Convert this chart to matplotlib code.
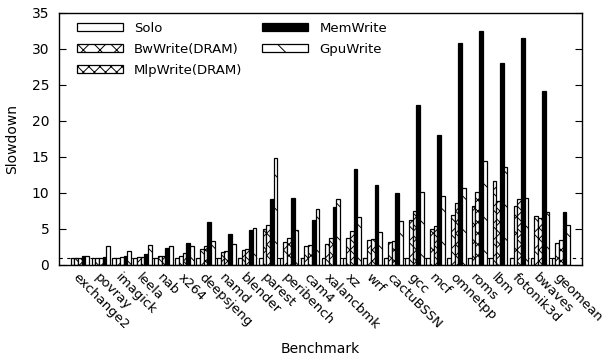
import matplotlib
matplotlib.use("Agg")
import matplotlib.pyplot as plt
import numpy as np

benchmarks = ["exchange2", "povray", "imagick", "leela", "nab", "x264", "deepsjeng",
              "namd", "blender", "parest", "peribench", "cam4", "xalancbmk", "xz",
              "wrf", "cactuBSSN", "gcc", "mcf", "omnetpp", "roms", "lbm",
              "fotonik3d", "bwaves", "geomean"]
solo = [1.0] * 24
bw_write = [1.0, 1.0, 1.0, 1.1, 1.2, 1.3, 2.2, 1.75, 2.1, 5.0, 3.2, 2.7, 2.9, 3.8,
            3.5, 3.15, 6.2, 5.0, 7.0, 8.2, 11.6, 8.2, 6.8, 3.1]
mlp_write = [1.0, 1.0, 1.05, 1.1, 1.3, 1.6, 2.6, 1.9, 2.2, 5.5, 3.7, 2.8, 3.7, 4.7,
             3.6, 3.3, 7.5, 5.4, 8.6, 10.1, 8.9, 9.1, 6.5, 3.4]
mem_write = [1.3, 1.15, 1.3, 1.5, 2.4, 3.0, 5.9, 4.3, 4.9, 9.2, 9.3, 6.3, 8.0, 13.3,
             11.1, 10.0, 22.2, 18.0, 30.8, 32.5, 28.0, 31.5, 24.2, 7.4]
gpu_write = [1.2, 2.7, 2.0, 2.8, 2.6, 2.7, 3.3, 2.9, 5.2, 14.9, 4.8, 7.8, 9.1, 6.6,
             4.6, 6.1, 10.2, 9.6, 10.7, 14.4, 13.6, 9.3, 7.3, 5.5]

series = [("Solo", solo, "white", ""),
          ("BwWrite(DRAM)", bw_write, "white", "xx"),
          ("MlpWrite(DRAM)", mlp_write, "white", "xxx"),
          ("MemWrite", mem_write, "black", ""),
          ("GpuWrite", gpu_write, "white", "\\")]

plt.rcParams["hatch.linewidth"] = 0.7
plt.rcParams["font.family"] = ["DejaVu Sans"]

fig = plt.figure(figsize=(6.08, 3.6), dpi=100)
ax = fig.add_axes([0.097, 0.264, 0.86, 0.7])

x = np.arange(len(benchmarks))
w = 0.177
ax.axhline(1, color="black", lw=0.8, ls=(0, (3, 4)), zorder=1)
for i, (name, vals, col, hatch) in enumerate(series):
    ax.bar(x + (i - 2) * w, vals, w, color=col, edgecolor="black", hatch=hatch,
           linewidth=0.9, label=name, zorder=2)

ax.set_xlim(-1, 24)
ax.set_ylim(0, 35)
ax.set_yticks(range(0, 36, 5))
ax.tick_params(axis="y", direction="in", length=5, right=True, labelsize=10, pad=7)
ax.set_xticks(x)
ax.set_xticklabels(benchmarks, rotation=-45, ha="left", va="top",
                   rotation_mode="anchor", fontsize=9.5)
ax.tick_params(axis="x", length=0, pad=4)
for s in ax.spines.values():
    s.set_linewidth(1.0)

ax.set_ylabel("Slowdown", fontsize=10)
ax.set_xlabel("Benchmark", fontsize=10)
ax.yaxis.set_label_coords(-0.09, 0.5)
ax.xaxis.set_label_coords(0.5, -0.333)
ax.xaxis.label.set_va("center")
ax.yaxis.label.set_va("center")

ax.legend(ncol=2, loc="upper left", bbox_to_anchor=(0.034, 0.965), frameon=False,
          borderpad=0, borderaxespad=0, handlelength=3.5, handleheight=0.6,
          handletextpad=0.85, labelspacing=0.6, columnspacing=1.5, fontsize=9.5)

fig.savefig("out.png", dpi=100)
